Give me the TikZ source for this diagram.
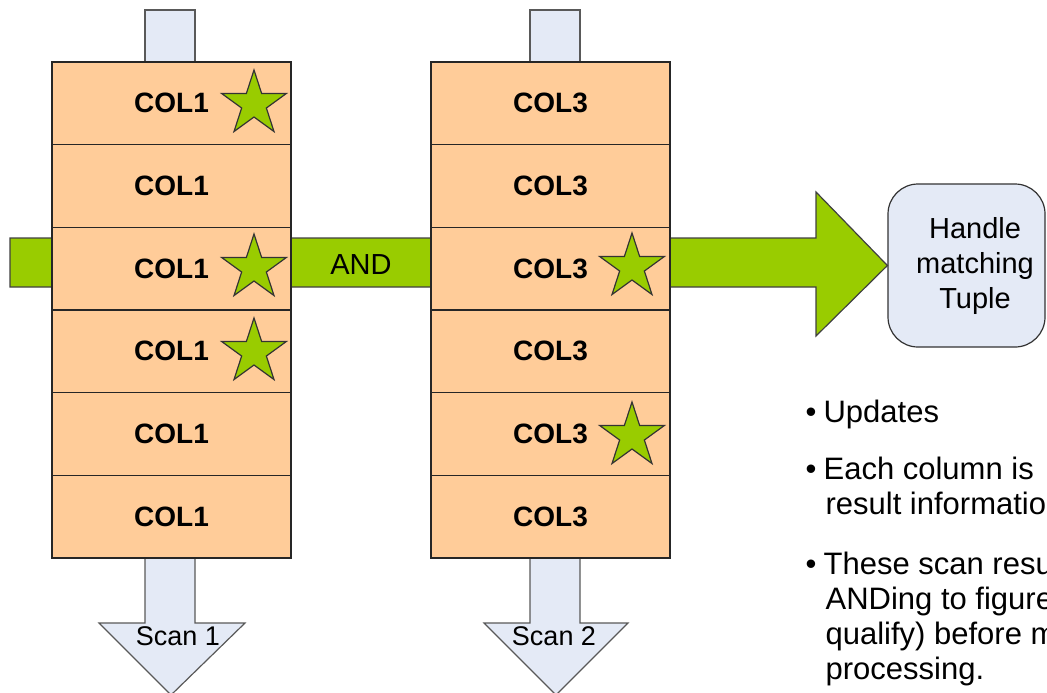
\documentclass[tikz,border=0pt]{standalone}
\usepackage{fontspec}
\setmainfont{Liberation Sans}
\definecolor{peach}{HTML}{FFCC99}
\definecolor{paleblue}{HTML}{E4EAF6}
\definecolor{limegreen}{HTML}{99CC00}
\usetikzlibrary{shapes.geometric}

\begin{document}
\begin{tikzpicture}[x=0.5pt, y=-0.5pt, line width=0.6pt,
  rowbox/.style={draw=black!85, fill=peach, minimum width=119.5pt,
    minimum height=41.33pt, inner sep=0pt, font=\fontsize{14}{16}\selectfont\bfseries},
  greenstar/.style={star, star points=5, star point ratio=2.618, minimum size=34pt,
    inner sep=0pt, draw=black!80, fill=limegreen},
  stub/.style={draw=black!65, fill=paleblue},
  scanlabel/.style={font=\fontsize{13.5}{15}\selectfont, inner sep=0pt},
  bullettext/.style={anchor=base west, inner sep=0pt, font=\fontsize{15.5}{17.5}\selectfont}]
  \clip (0,0) rectangle (1047,692);

  % Result box
  \node[draw=black!80, fill=paleblue, rounded corners=15pt, minimum width=78.5pt,
    minimum height=81.5pt, inner sep=0pt] (handle) at (966.5,265.5) {};
  \node[align=center, inner sep=0pt, font=\fontsize{14.5}{17.5}\selectfont]
    (handletext) at (975,265.5) {Handle\\matching\\Tuple};

  % Green bar
  \fill[limegreen, draw=black!75] (10,238) -- (816,238) -- (816,192) -- (handle.west)
    -- (816,336) -- (816,287) -- (10,287) -- cycle;
  \node[font=\fontsize{14.5}{16}\selectfont] (and) at (361,265) {AND};

  % Stubs on top
  \draw[stub] (145,10) rectangle (195,62);
  \draw[stub] (530,10) rectangle (580,62);

  % Scan arrows
  \draw[stub] (145,558) -- (145,623) -- (99,623) -- (171,695) -- (245,623) -- (195,623) -- (195,558);
  \draw[stub] (530,558) -- (530,623) -- (484,623) -- (556,695) -- (628,623) -- (580,623) -- (580,558);
  \node[scanlabel] (scan1) at (178,636) {Scan 1};
  \node[scanlabel] (scan2) at (554,636) {Scan 2};

  % Columns
  \foreach \i in {1,...,6} {
    \node[rowbox] (col1-\i) at (171.5,{62+82.667*\i-41.333}) {COL1};
    \node[rowbox] (col3-\i) at (550.5,{62+82.667*\i-41.333}) {COL3};
  }

  % Stars
  \node[greenstar] (star1) at (254,104) {};
  \node[greenstar] (star2) at (254,268) {};
  \node[greenstar] (star3) at (254,352) {};
  \node[greenstar] (star4) at (632,267) {};
  \node[greenstar] (star5) at (632,436) {};

  % Notes
  \node[bullettext] (dot1) at (805,422) {\textbullet};
  \node[bullettext] (note1) at (823,422) {Updates};
  \node[bullettext] (dot2) at (805,479) {\textbullet};
  \node[bullettext] (note2) at (823,479) {Each column is};
  \node[bullettext] (note3) at (825,514) {result informatio};
  \node[bullettext] (dot3) at (805,574) {\textbullet};
  \node[bullettext] (note4) at (823,574) {These scan resu};
  \node[bullettext] (note5) at (825,609) {ANDing to figure};
  \node[bullettext] (note6) at (825,644) {qualify) before m};
  \node[bullettext] (note7) at (825,679) {processing.};
\end{tikzpicture}
\end{document}
